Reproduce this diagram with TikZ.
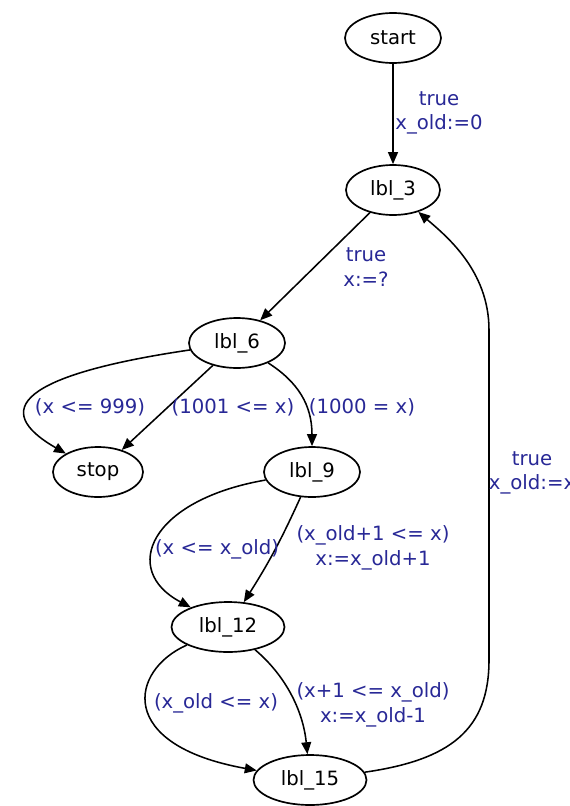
\documentclass[tikz,border=0pt]{standalone}
\usepackage{fontspec}
\setmainfont{DejaVu Sans}
\usepackage{xcolor}
\usetikzlibrary{positioning,arrows.meta,shapes.geometric}
\definecolor{guardblue}{RGB}{40,40,150}

\begin{document}
\begin{tikzpicture}[
    font={\fontsize{14}{17.5}\selectfont},
    loc/.style={
        draw,
        ellipse,
        line width=1.2pt,
        minimum width=2.4cm,
        minimum height=1.25cm,
        inner sep=0pt
    },
    guard/.style={
        text=guardblue,
        align=center,
        inner sep=0pt
    },
    flow/.style={
        line width=1.1pt,
        -{Triangle[length=8.5pt,width=7pt]}
    }
]

% Frame
\useasboundingbox (0,0) rectangle (14.225,-20.15);

% Locations
\node[loc] (start) at (9.825,-0.95) {start};
\node[loc, minimum width=2.35cm] (lbl3) at (9.825,-4.75) {lbl\_3};
\node[loc] (lbl6) at (5.925,-8.575) {lbl\_6};
\node[loc, minimum width=2.25cm] (stop) at (2.45,-11.8) {stop};
\node[loc] (lbl9) at (7.8,-11.8) {lbl\_9};
\node[loc, minimum width=2.825cm] (lbl12) at (5.7,-15.675) {lbl\_12};
\node[loc, minimum width=2.825cm] (lbl15) at (7.75,-19.5) {lbl\_15};

% Loop-back corners
\coordinate (backlow) at (12.225,-16.5);
\coordinate (backhigh) at (12.225,-8.25);

% Transitions
\draw[flow] (start) -- (lbl3);
\draw[flow] (lbl3) -- (lbl6);
\draw[flow] (lbl6) .. controls (0.5,-9.375) and (-0.25,-10.25) .. (stop);
\draw[flow] (lbl6) -- (stop);
\draw[flow] (lbl6) .. controls (7.45,-9.55) and (7.8,-10.125) .. (lbl9);
\draw[flow] (lbl9) .. controls (3.75,-12.5) and (3.0,-14.25) .. (lbl12);
\draw[flow] (lbl9) to[bend left=4] (lbl12);
\draw[flow] (lbl12) .. controls (3.25,-16.75) and (2.875,-18.625) .. (lbl15);
\draw[flow] (lbl12) .. controls (7.125,-16.875) and (7.575,-17.75) .. (lbl15);
\draw[flow] (lbl15) .. controls (11.25,-19.0) and (12.225,-18.25) .. (backlow)
    -- (backhigh) .. controls (12.225,-6.75) and (11.125,-5.875) .. (lbl3);

% Guards
\node[guard] (ginit) at (10.975,-2.825) {true\\x\_old:=0};
\node[guard] (gpick) at (9.15,-6.675) {true\\x:=?};
\node[guard] (glow) at (2.25,-10.175) {(x <= 999)};
\node[guard] (ghigh) at (5.825,-10.175) {(1001 <= x)};
\node[guard] (geq) at (9.05,-10.175) {(1000 = x)};
\node[guard] (gnotup) at (5.425,-13.725) {(x <= x\_old)};
\node[guard] (gup) at (9.325,-13.7) {(x\_old+1 <= x)\\x:=x\_old+1};
\node[guard] (gnotdown) at (5.4,-17.575) {(x\_old <= x)};
\node[guard] (gdown) at (9.325,-17.625) {(x+1 <= x\_old)\\x:=x\_old-1};
\node[guard] (gback) at (13.3,-11.825) {true\\x\_old:=x};

\end{tikzpicture}
\end{document}
